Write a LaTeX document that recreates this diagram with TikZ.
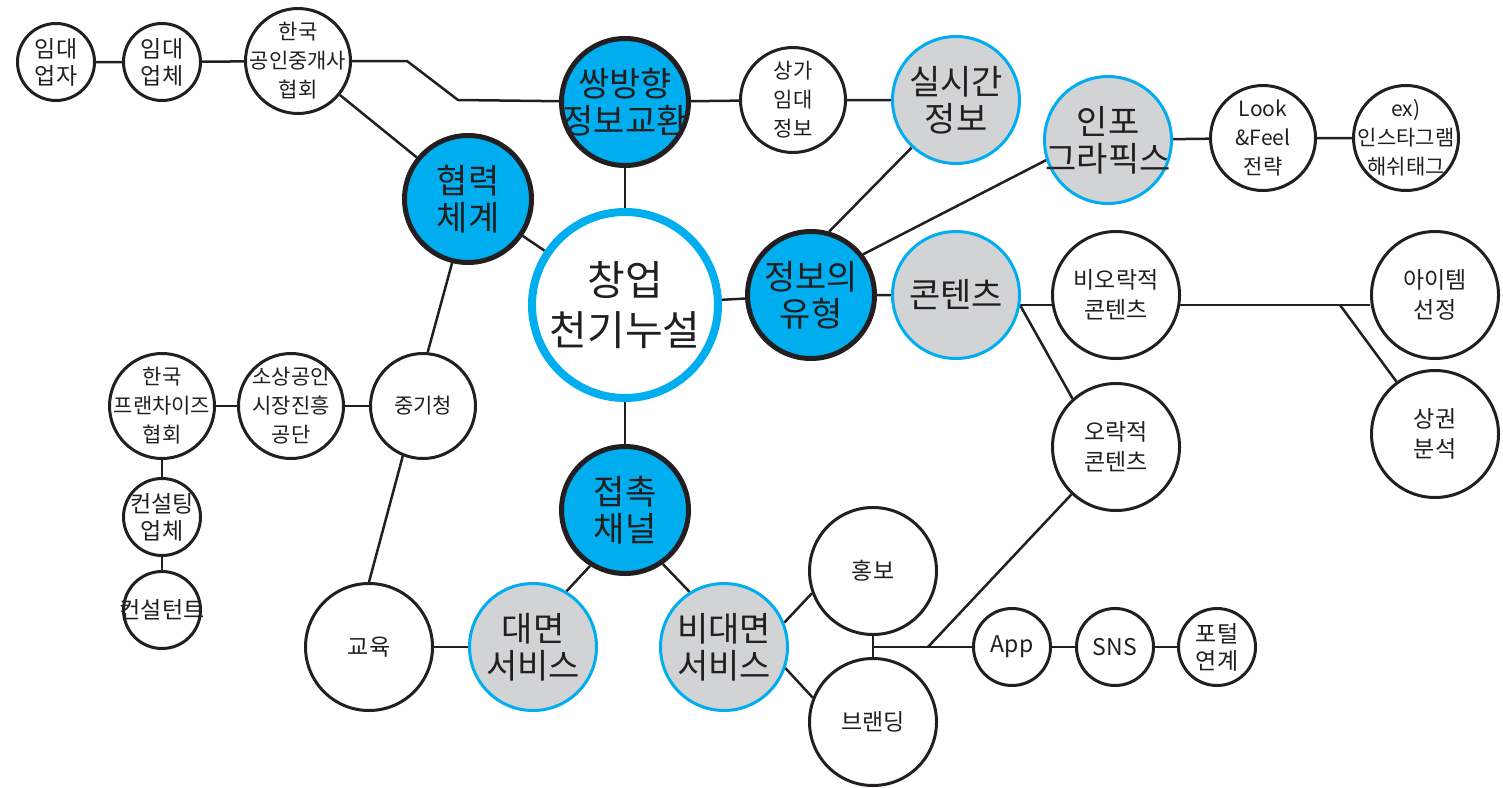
\documentclass[tikz,border=0pt]{standalone}
\usepackage{fontspec}
\setmainfont{Noto Sans CJK KR}
\usetikzlibrary{backgrounds}
\definecolor{ink}{HTML}{231F20}
\definecolor{cyanb}{HTML}{00AEEF}
\definecolor{grayf}{HTML}{D1D3D4}
\begin{document}
\begin{tikzpicture}[x=1pt,y=-1pt,
 bub/.style={circle,inner sep=0pt},
 lbl/.style={inner sep=0pt,align=center,text=ink},
 mainnode/.style={bub,draw=cyanb,line width=8pt,fill=white,minimum size=186pt,
   label={[lbl,font=\fontsize{41}{50}\selectfont]center:{#1}}},
 catnode/.style={bub,draw=ink,line width=5pt,fill=cyanb,minimum size=127pt,
   label={[lbl,font=\fontsize{34}{37}\selectfont]center:{#1}}},
 subnode/.style={bub,draw=cyanb,line width=3pt,fill=grayf,minimum size=127pt,
   label={[lbl,font=\fontsize{34}{37}\selectfont]center:{#1}}},
 bigleaf/.style={bub,draw=ink,line width=3pt,fill=white,minimum size=127pt,
   label={[lbl,font=\fontsize{23}{30}\selectfont]center:{#1}}},
 midleaf/.style={bub,draw=ink,line width=3pt,fill=white,minimum size=105pt,
   label={[lbl,font=\fontsize{21}{29}\selectfont]center:{#1}}},
 smallleaf/.style={bub,draw=ink,line width=3pt,fill=white,minimum size=77pt,
   label={[lbl,font=\fontsize{23}{27}\selectfont]center:{#1}}},
 link/.style={draw=ink,line width=2.5pt}]
\useasboundingbox (0,0) rectangle (1503,787);

% central and category nodes
\node[mainnode={창업\\천기누설}] (main) at (625,305) {};
\node[catnode={쌍방향\\정보교환}] (ssang) at (625,102) {};
\node[catnode={협력\\체계}] (hyup) at (468,199) {};
\node[catnode={정보의\\유형}] (info) at (811,295) {};
\node[catnode={접촉\\채널}] (contact) at (625,510) {};

% gray sub nodes
\node[subnode={실시간\\정보}] (silsi) at (956,100) {};
\node[subnode={인포\\그라픽스}] (infog) at (1108,140) {};
\node[subnode={콘텐츠}] (content) at (956,295) {};
\node[subnode={대면\\서비스}] (daemyeon) at (533,647) {};
\node[subnode={비대면\\서비스}] (bidaemyeon) at (724,647) {};

% leaves
\node[midleaf={상가\\임대\\정보}] (sangga) at (793,100) {};
\node[midleaf={Look\\\&Feel\\전략}] (look) at (1263,138) {};
\node[midleaf={ex)\\인스타그램\\해쉬태그}] (insta) at (1406,138) {};
\node[smallleaf={임대\\업자}] (imdae1) at (56,62) {};
\node[smallleaf={임대\\업체}] (imdae2) at (162,62) {};
\node[midleaf={한국\\공인중개사\\협회}] (kopa) at (298,61) {};
\node[midleaf={한국\\프랜차이즈\\협회}] (franch) at (162,406) {};
\node[midleaf={소상공인\\시장진흥\\공단}] (soho) at (291,406) {};
\node[midleaf={중기청}] (junggi) at (423,406) {};
\node[smallleaf={컨설팅\\업체}] (consult) at (162,517) {};
\node[smallleaf={컨설턴트}] (consultant) at (162,610) {};
\node[bigleaf={교육}] (edu) at (369,647) {};
\node[bigleaf={비오락적\\콘텐츠}] (biorak) at (1116,295) {};
\node[bigleaf={오락적\\콘텐츠}] (orak) at (1116,447) {};
\node[bigleaf={아이템\\선정}] (item) at (1435,295) {};
\node[bigleaf={상권\\분석}] (sangkwon) at (1435,434) {};
\node[bigleaf={홍보}] (hongbo) at (873,571) {};
\node[bigleaf={브랜딩}] (branding) at (873,722) {};
\node[smallleaf={App}] (app) at (1012,647) {};
\node[smallleaf={SNS}] (sns) at (1115,647) {};
\node[smallleaf={포털\\연계}] (portal) at (1217,647) {};

% junction points
\coordinate (kj1) at (407,61);
\coordinate (kj2) at (458,100);
\coordinate (cjunc) at (1020,305);
\coordinate (sjunc) at (1340,305);
\coordinate (hb) at (873,647);
\coordinate (j2) at (928,647);

\begin{scope}[on background layer]
\draw[link] (imdae1) -- (imdae2) -- (kopa);
\draw[link] (kopa) -- (kj1) -- (kj2) -- (ssang);
\draw[link] (kopa) -- (hyup);
\draw[link] (hyup) -- (main);
\draw[link] (ssang) -- (main);
\draw[link] (ssang) -- (sangga) -- (silsi);
\draw[link] (main) -- (info) -- (content);
\draw[link] (info.74) -- (silsi.227);
\draw[link] (info.38) -- (infog.198);
\draw[link] (infog) -- (look) -- (insta);
\draw[link] (cjunc) -- (cjunc -| item.west);
\draw[link] (cjunc) -- (orak.132);
\draw[link] (sjunc) -- (sangkwon);
\draw[link] (main) -- (contact);
\draw[link] (contact.238) -- (daemyeon.59);
\draw[link] (contact.305) -- (bidaemyeon.122);
\draw[link] (daemyeon) -- (edu);
\draw[link] (bidaemyeon.22) -- (hongbo.200);
\draw[link] (bidaemyeon.341) -- (branding.158);
\draw[link] (hongbo) -- (branding);
\draw[link] (hb) -- (app) -- (sns) -- (portal);
\draw[link] (j2) -- (orak);
\draw[link] (franch) -- (soho) -- (junggi);
\draw[link] (franch) -- (consult) -- (consultant);
\draw[link] (hyup.256) -- (junggi.85);
\draw[link] (junggi.248) -- (edu.90);
\end{scope}
\end{tikzpicture}
\end{document}
